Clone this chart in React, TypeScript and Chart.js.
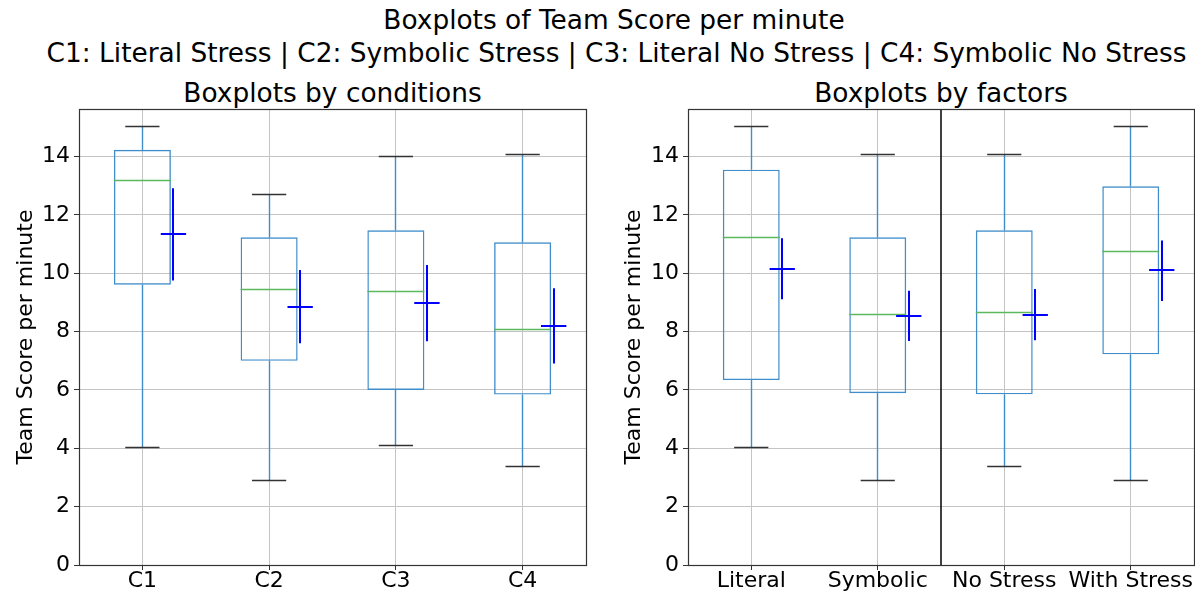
import React, { useEffect, useRef } from "react";
import { Chart, registerables } from "chart.js";

Chart.register(...registerables);

// ---- Data ----
const conditionLabels = ["C1", "C2", "C3", "C4"];
const condWhiskerLow = [4.02, 2.91, 4.08, 3.37];
const condQ1 = [9.61, 7.0, 6.0, 5.84];
const condMedian = [13.17, 9.43, 9.36, 8.08];
const condQ3 = [14.23, 11.23, 11.47, 11.06];
const condWhiskerHigh = [15.03, 12.71, 14.01, 14.06];
const condMean = [11.35, 8.86, 8.99, 8.2];
const condMeanLow = [9.75, 7.6, 7.67, 6.91];
const condMeanHigh = [12.91, 10.11, 10.28, 9.49];

const factorLabels = ["Literal", "Symbolic", "No Stress", "With Stress"];
const factorWhiskerLow = [4.02, 2.91, 3.37, 2.91];
const factorQ1 = [6.34, 5.89, 5.85, 7.22];
const factorMedian = [11.23, 8.57, 8.67, 10.76];
const factorQ3 = [13.55, 11.23, 11.47, 12.98];
const factorWhiskerHigh = [15.03, 14.06, 14.06, 15.03];
const factorMean = [10.15, 8.54, 8.58, 10.1];
const factorMeanLow = [9.11, 7.68, 7.7, 9.05];
const factorMeanHigh = [11.2, 9.4, 9.46, 11.12];

const yTicksMax = 15.63;

const FONT = "'DejaVu Sans', 'Liberation Sans', sans-serif";
const BOX_COLOR = "#3f8dca";
const MEDIAN_COLOR = "#5cb85c";
const CAP_COLOR = "#333333";
const MEAN_COLOR = "#0000ff";
const BOX_HALF = 0.225;
const CAP_HALF = 0.135;
const MEAN_OFFSET = 0.245;
const MEAN_HALF = 0.1;

type BoxSet = {
  labels: string[];
  low: number[];
  q1: number[];
  med: number[];
  q3: number[];
  high: number[];
  mean: number[];
  meanLow: number[];
  meanHigh: number[];
};

const conditions: BoxSet = {
  labels: conditionLabels,
  low: condWhiskerLow,
  q1: condQ1,
  med: condMedian,
  q3: condQ3,
  high: condWhiskerHigh,
  mean: condMean,
  meanLow: condMeanLow,
  meanHigh: condMeanHigh,
};

const factors: BoxSet = {
  labels: factorLabels,
  low: factorWhiskerLow,
  q1: factorQ1,
  med: factorMedian,
  q3: factorQ3,
  high: factorWhiskerHigh,
  mean: factorMean,
  meanLow: factorMeanLow,
  meanHigh: factorMeanHigh,
};

const crisp = (v: number) => Math.round(v - 0.5) + 0.5;

function buildChart(
  canvas: HTMLCanvasElement,
  d: BoxSet,
  o: { yWidth: number; titlePad: number; padRight: number; divider: boolean }
) {
  const plugin = {
    id: "boxExtras",
    afterDatasetsDraw(chart: any) {
      const ctx = chart.ctx as CanvasRenderingContext2D;
      const xs = chart.scales.x;
      const ys = chart.scales.y;
      const area = chart.chartArea;
      const line = (x1: number, y1: number, x2: number, y2: number) => {
        ctx.beginPath();
        ctx.moveTo(x1, y1);
        ctx.lineTo(x2, y2);
        ctx.stroke();
      };
      ctx.save();
      d.labels.forEach((_, i) => {
        const cx = crisp(xs.getPixelForValue(i));
        // whiskers
        ctx.strokeStyle = BOX_COLOR;
        ctx.lineWidth = 1.4;
        line(cx, ys.getPixelForValue(d.q3[i]), cx, ys.getPixelForValue(d.high[i]));
        line(cx, ys.getPixelForValue(d.q1[i]), cx, ys.getPixelForValue(d.low[i]));
        // caps
        ctx.strokeStyle = CAP_COLOR;
        ctx.lineWidth = 1.4;
        const cl = xs.getPixelForValue(i - CAP_HALF);
        const cr = xs.getPixelForValue(i + CAP_HALF);
        const yh = crisp(ys.getPixelForValue(d.high[i]));
        const yl = crisp(ys.getPixelForValue(d.low[i]));
        line(cl, yh, cr, yh);
        line(cl, yl, cr, yl);
        // median
        ctx.strokeStyle = MEDIAN_COLOR;
        ctx.lineWidth = 1.4;
        const ym = crisp(ys.getPixelForValue(d.med[i]));
        line(xs.getPixelForValue(i - BOX_HALF), ym, xs.getPixelForValue(i + BOX_HALF), ym);
        // mean cross
        ctx.strokeStyle = MEAN_COLOR;
        ctx.lineWidth = 2;
        const mx = Math.round(xs.getPixelForValue(i + MEAN_OFFSET));
        line(mx, ys.getPixelForValue(d.meanHigh[i]), mx, ys.getPixelForValue(d.meanLow[i]));
        const my = Math.round(ys.getPixelForValue(d.mean[i]));
        line(
          xs.getPixelForValue(i + MEAN_OFFSET - MEAN_HALF),
          my,
          xs.getPixelForValue(i + MEAN_OFFSET + MEAN_HALF),
          my
        );
      });
      if (o.divider) {
        ctx.strokeStyle = "#000000";
        ctx.lineWidth = 1.5;
        const dx = xs.getPixelForValue(1.5);
        line(dx, area.top, dx, area.bottom);
      }
      ctx.strokeStyle = "#333333";
      ctx.lineWidth = 1.2;
      ctx.strokeRect(
        crisp(area.left),
        crisp(area.top),
        Math.round(area.right - area.left),
        Math.round(area.bottom - area.top)
      );
      ctx.restore();
    },
  };

  return new Chart(canvas, {
    type: "bar",
    data: {
      labels: d.labels,
      datasets: [
        {
          data: d.labels.map((_, i) => [d.q1[i], d.q3[i]]) as any,
          backgroundColor: "rgba(0,0,0,0)",
          borderColor: BOX_COLOR,
          borderWidth: 1.4,
          borderSkipped: false,
          barPercentage: BOX_HALF * 2,
          categoryPercentage: 1,
        },
      ],
    },
    options: {
      animation: false,
      responsive: false,
      devicePixelRatio: 1,
      layout: { padding: { top: 109, right: o.padRight, left: 0, bottom: 0 } },
      plugins: {
        legend: { display: false },
        tooltip: { enabled: false },
        title: { display: false },
      },
      scales: {
        x: {
          type: "category",
          offset: true,
          grid: {
            offset: false,
            color: "#c4c4c4",
            lineWidth: 1,
            tickLength: 5,
            tickColor: "#333333",
          },
          border: { display: false },
          ticks: {
            color: "#000000",
            font: { family: FONT, size: 22 },
            padding: -2,
            maxRotation: 0,
            autoSkip: false,
          },
          afterFit: (scale: any) => {
            scale.height = 28;
          },
        },
        y: {
          type: "linear",
          min: 0,
          max: yTicksMax,
          grid: {
            color: "#c4c4c4",
            lineWidth: 1,
            tickLength: 5,
            tickColor: "#333333",
          },
          border: { display: false },
          ticks: {
            stepSize: 2,
            includeBounds: false,
            color: "#000000",
            font: { family: FONT, size: 22 },
            padding: 4,
          },
          title: {
            display: true,
            text: "Team Score per minute",
            color: "#000000",
            font: { family: FONT, size: 22 },
            padding: { top: o.titlePad, bottom: 0 },
          },
          afterFit: (scale: any) => {
            scale.width = o.yWidth;
          },
        },
      },
    },
    plugins: [plugin as any],
  });
}

const titleStyle = (top: number, center: number): React.CSSProperties => ({
  position: "absolute",
  top,
  left: center,
  transform: "translateX(-50%)",
  whiteSpace: "nowrap",
  fontFamily: FONT,
  fontSize: 26.4,
  lineHeight: "30px",
  color: "#000",
});

export default function App() {
  const leftRef = useRef<HTMLCanvasElement | null>(null);
  const rightRef = useRef<HTMLCanvasElement | null>(null);

  useEffect(() => {
    const c1 = buildChart(leftRef.current!, conditions, {
      yWidth: 79,
      titlePad: 13,
      padRight: 9,
      divider: false,
    });
    const c2 = buildChart(rightRef.current!, factors, {
      yWidth: 88,
      titlePad: 21,
      padRight: 1,
      divider: true,
    });
    return () => {
      c1.destroy();
      c2.destroy();
    };
  }, []);

  return (
    <div
      style={{
        position: "fixed",
        left: 0,
        top: 0,
        width: 1195,
        height: 593,
        background: "#fff",
        overflow: "hidden",
      }}
    >
      <div style={titleStyle(5.2, 614)}>Boxplots of Team Score per minute</div>
      <div style={titleStyle(37.5, 616.5)}>
        C1: Literal Stress | C2: Symbolic Stress | C3: Literal No Stress | C4: Symbolic No Stress
      </div>
      <div style={titleStyle(77.9, 332.5)}>Boxplots by conditions</div>
      <div style={titleStyle(77.9, 941)}>Boxplots by factors</div>
      <canvas
        ref={leftRef}
        width={595}
        height={593}
        style={{ position: "absolute", left: 0, top: 0, width: 595, height: 593 }}
      />
      <canvas
        ref={rightRef}
        width={595}
        height={593}
        style={{ position: "absolute", left: 600, top: 0, width: 595, height: 593 }}
      />
    </div>
  );
}
